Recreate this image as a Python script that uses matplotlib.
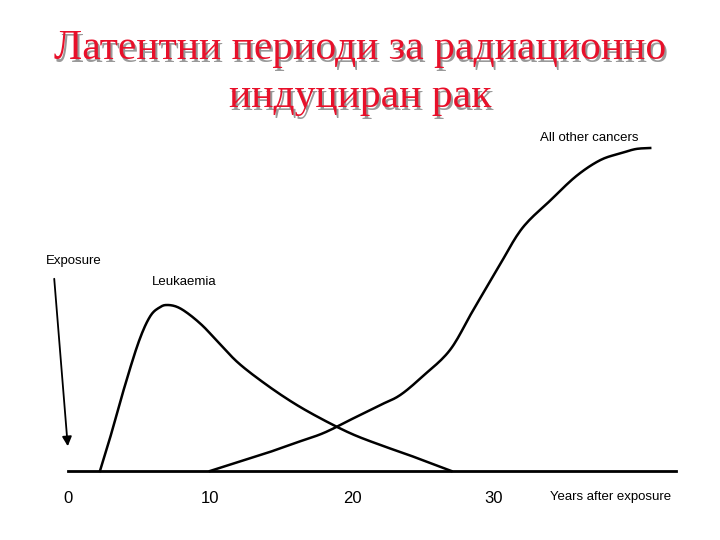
import matplotlib
matplotlib.use("Agg")
import matplotlib.pyplot as plt
import numpy as np

title_lines = ["Латентни периоди за радиационно", "индуциран рак"]
ticks = [0, 10, 20, 30]
leuk_x = [2.25, 3.0, 4.0, 5.0, 5.8, 6.5, 7.0, 7.7, 8.5, 9.5, 10.5, 12, 14, 16, 18, 20, 22, 24, 25.5, 27]
leuk_y = [0, 35, 85, 130, 155, 164, 166, 164, 157, 145, 130, 108, 86, 67, 51, 37, 26, 16, 8, 0]
oth_x = [10, 12, 14, 16, 18, 20, 22, 23.4, 25, 26.9, 28.5, 30.4, 32, 34, 35.8, 37.5, 39, 40, 41]
oth_y = [0, 9, 18, 28, 38, 52, 66, 76, 95, 121, 160, 206, 243, 271, 295, 311, 318, 322, 323]


def smooth(xs, ys, n=12):
    # Catmull-Rom rendering of the read points
    p = np.column_stack([xs, ys]).astype(float)
    p = np.vstack([p[0], p, p[-1]])
    out = []
    for i in range(1, len(p) - 2):
        p0, p1, p2, p3 = p[i - 1], p[i], p[i + 1], p[i + 2]
        for t in np.linspace(0, 1, n, endpoint=False):
            out.append(0.5 * ((2 * p1) + (-p0 + p2) * t + (2 * p0 - 5 * p1 + 4 * p2 - p3) * t**2
                              + (-p0 + 3 * p1 - 3 * p2 + p3) * t**3))
    out.append(p[-2])
    out = np.array(out)
    return out[:, 0], out[:, 1]


px = 14.2
fig = plt.figure(figsize=(7.2, 5.4), dpi=100)
ax = fig.add_axes([0, 0, 1, 1])
ax.set_xlim(-68/px, (720-68)/px)
ax.set_ylim(-(540-471), 471)
ax.axis("off")

ax.plot([0, (676-68)/px], [0, 0], color="black", lw=2)
ax.plot(*smooth(leuk_x, leuk_y), color="black", lw=1.8)
ax.plot(*smooth(oth_x, oth_y), color="black", lw=1.8)
for t in ticks:
    ax.text(t, -20, str(t), ha="center", va="top", fontsize=12, family="Liberation Sans")
ax.text((550-68)/px, -20, "Years after exposure", ha="left", va="top", fontsize=9.5, family="Liberation Sans")
ax.text((540-68)/px, 333, "All other cancers", ha="left", va="center", fontsize=9.5, family="Liberation Sans")
ax.text((152-68)/px, 189, "Leukaemia", ha="left", va="center", fontsize=9.5, family="Liberation Sans")
ax.text((46-68)/px, 210, "Exposure", ha="left", va="center", fontsize=9.5, family="Liberation Sans")
ax.annotate("", xy=(0, 22), xytext=((54-68)/px, 195),
            arrowprops=dict(arrowstyle="-|>", color="black", lw=1.3, mutation_scale=14))

for line, yc in zip(title_lines, [49, 97]):
    yf = 1 - yc / 540
    fig.text(0.5 + 0.003, yf - 0.005, line, ha="center", va="center", fontsize=30,
             family="Liberation Serif", color="#999999")
    fig.text(0.5, yf, line, ha="center", va="center", fontsize=30,
             family="Liberation Serif", color="#e8102a")
fig.savefig("out.png", dpi=100)
